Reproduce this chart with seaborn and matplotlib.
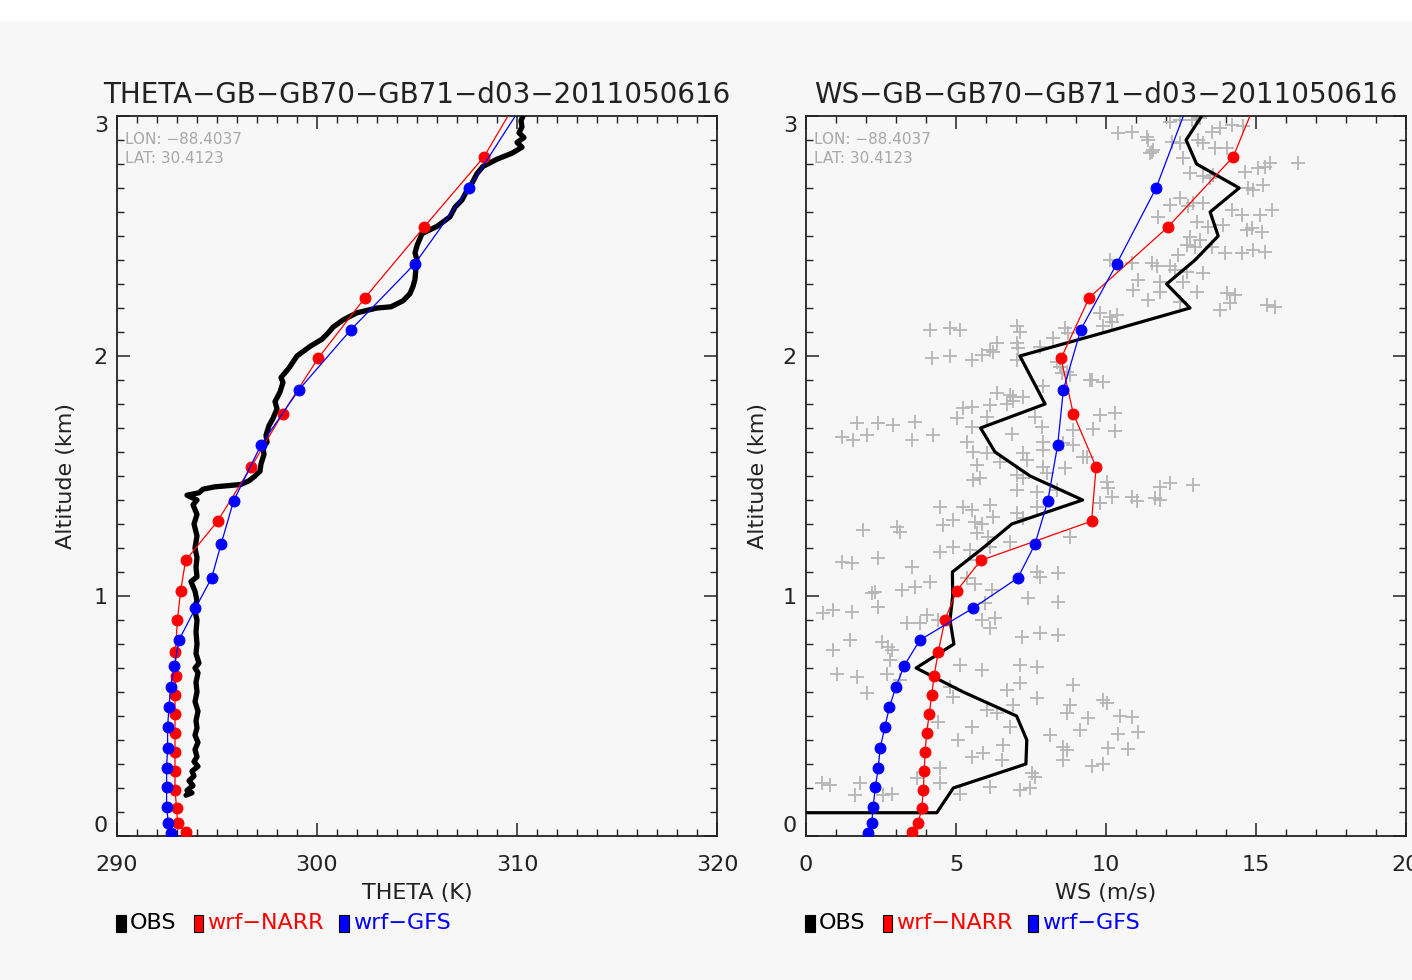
import matplotlib
matplotlib.use("Agg")
import matplotlib.pyplot as plt
from matplotlib.patches import Rectangle
import seaborn as sns

# ---- data ----
# potential temperature profiles (K) vs altitude (km)
obs_theta_alt = [0.17, 0.18, 0.19, 0.21, 0.23, 0.25, 0.27, 0.29, 0.31, 0.33, 0.36, 0.39,
                 0.42, 0.45, 0.48, 0.52, 0.56, 0.60, 0.64, 0.68, 0.70, 0.72, 0.76, 0.80,
                 0.85, 0.90, 0.95, 0.98, 1.02, 1.06, 1.08, 1.12, 1.16, 1.20, 1.25, 1.30,
                 1.34, 1.38, 1.40, 1.42, 1.43, 1.445, 1.455, 1.46, 1.465, 1.48, 1.50, 1.52,
                 1.55, 1.59, 1.62, 1.64, 1.67, 1.71, 1.74, 1.78, 1.81, 1.85, 1.89, 1.91,
                 1.95, 2.00, 2.04, 2.07, 2.10, 2.12, 2.15, 2.18, 2.20, 2.205, 2.23, 2.26,
                 2.29, 2.32, 2.37, 2.40, 2.43, 2.46, 2.51, 2.54, 2.58, 2.62, 2.65, 2.69,
                 2.72, 2.76, 2.79, 2.82, 2.845, 2.87, 2.89, 2.91, 2.93, 2.955, 2.98, 3.00, 3.05]
obs_theta = [293.45, 293.75, 293.5, 293.8, 293.6, 293.85, 293.75, 294.05, 293.85, 294.0, 293.9, 294.05,
             293.9, 294.0, 293.95, 294.05, 293.9, 294.0, 293.95, 294.05, 293.9, 294.1, 293.95, 294.0,
             293.95, 294.0, 293.85, 294.0, 293.9, 293.7, 294.0, 293.95, 294.0, 293.9, 294.0, 293.85,
             294.0, 293.8, 294.0, 293.5, 294.1, 294.3, 294.9, 295.6, 296.2, 296.6, 296.9, 297.15,
             297.2, 297.35, 297.3, 297.5, 297.45, 297.6, 297.8, 298.0, 297.9, 298.15, 298.3, 298.2,
             298.6, 299.0, 299.65, 300.25, 300.6, 300.8, 301.3, 302.0, 303.0, 303.7, 304.3, 304.65,
             304.8, 304.9, 304.95, 305.0, 304.9, 305.0, 305.25, 306.0, 306.65, 306.9, 307.25, 307.5,
             307.75, 308.0, 308.3, 309.0, 309.75, 310.25, 310.0, 310.35, 310.1, 310.25, 310.2, 310.3, 310.3]

narr_alt = [0.015, 0.053, 0.117, 0.192, 0.27, 0.348, 0.429, 0.509, 0.588, 0.668, 0.767,
            0.9, 1.021, 1.148, 1.312, 1.537, 1.76, 1.99, 2.243, 2.537, 2.83, 3.15]
narr_theta = [293.43, 293.03, 292.98, 292.9, 292.9, 292.9, 292.9, 292.9, 292.9, 292.95, 292.92,
              293.02, 293.18, 293.43, 295.03, 296.7, 298.28, 300.05, 302.4, 305.35, 308.35, 310.6]
narr_ws = [3.52, 3.74, 3.86, 3.91, 3.94, 3.97, 4.02, 4.11, 4.19, 4.27, 4.41,
           4.63, 5.02, 5.82, 9.52, 9.67, 8.91, 8.5, 9.44, 12.06, 14.24, 15.29]

gfs_alt = [0.014, 0.053, 0.122, 0.203, 0.285, 0.366, 0.455, 0.537, 0.622, 0.709, 0.817,
           0.949, 1.075, 1.215, 1.396, 1.63, 1.86, 2.11, 2.385, 2.7, 3.05]
gfs_theta = [292.7, 292.57, 292.48, 292.48, 292.48, 292.53, 292.53, 292.6, 292.68, 292.87, 293.1,
             293.92, 294.73, 295.2, 295.83, 297.2, 299.1, 301.7, 304.9, 307.6, 310.3]
gfs_ws = [2.08, 2.19, 2.24, 2.31, 2.41, 2.47, 2.63, 2.78, 3.0, 3.27, 3.8,
          5.56, 7.06, 7.63, 8.06, 8.39, 8.58, 9.16, 10.36, 11.67, 12.73]

# observed wind speed (m/s)
obs_ws_alt = [0.097, 0.097, 0.2, 0.3, 0.4, 0.5, 0.6, 0.7, 0.8, 0.9, 1.0, 1.1, 1.2, 1.3, 1.4,
              1.5, 1.6, 1.7, 1.8, 1.9, 2.0, 2.1, 2.2, 2.3, 2.4, 2.5, 2.6, 2.7, 2.8, 2.9, 3.0, 3.1]
obs_ws = [0.0, 4.36, 4.91, 7.33, 7.36, 7.02, 5.24, 3.67, 4.93, 4.8, 4.89, 4.88, 5.9, 6.86, 9.22,
          7.47, 6.3, 5.82, 7.97, 7.55, 7.13, 10.0, 12.8, 12.02, 12.97, 13.74, 13.47, 14.44, 13.02,
          12.67, 13.19, 13.6]

# individual wind observations (gray crosses)
cross_ws = [6.36, 6.80, 6.69, 5.24, 5.52, 6.13, 6.91, 5.02, 6.02, 7.63, 9.80, 1.69, 2.41, 2.91,
            3.63, 5.52, 7.86, 8.91, 9.58, 1.19, 1.58, 2.02, 3.52, 4.24, 5.36, 6.86, 7.91, 8.58,
            8.91, 5.58, 6.02, 7.24, 7.91, 9.24, 5.69, 6.47, 7.36, 8.63, 7.91, 5.58, 5.80, 7.02,
            7.24, 8.02, 7.02, 7.69, 8.36, 9.80, 4.47, 5.24, 5.52, 6.13, 7.02, 7.69, 4.91, 5.63,
            5.86, 6.24, 7.24, 1.91, 3.02, 3.13, 4.58, 5.69, 6.08, 8.80, 6.80, 4.47, 4.91, 5.47,
            6.13, 1.19, 1.52, 2.41, 3.52, 5.69, 7.69, 7.80, 8.41, 3.19, 3.63, 4.13, 5.36, 5.63,
            6.19, 7.41, 8.41, 2.19, 2.30, 5.97, 0.58, 0.91, 1.52, 2.41, 4.02, 4.41, 5.86, 6.30,
            3.36, 3.80, 6.13, 1.47, 2.52, 2.74, 2.86, 7.19, 7.80, 8.41, 0.91, 2.80, 1.02, 1.69,
            2.69, 5.13, 5.86, 7.13, 7.69, 8.91, 2.02, 3.13, 4.80, 4.91, 6.69, 7.13, 7.69, 8.80,
            9.91, 6.02, 6.36, 6.91, 8.69, 9.41, 4.41, 5.52, 6.80, 8.13, 9.13, 5.08, 6.58, 8.58,
            8.69, 5.52, 5.91, 6.52, 8.58, 9.52, 9.91, 4.47, 7.52, 7.63, 0.52, 0.80, 1.80, 3.69,
            4.47, 6.13, 7.13, 7.47, 1.63, 2.58, 2.86, 5.13,
            10.30, 10.30, 9.36, 10.02, 10.08, 9.80, 10.19, 10.86, 11.02, 11.63, 11.80, 11.80,
            12.13, 12.91, 10.02, 10.47, 10.86, 10.41, 11.08, 10.08, 10.74,
            10.41, 10.86, 11.36, 11.41, 11.47, 11.52, 11.58, 12.13, 12.47, 12.19, 12.47, 12.58,
            13.08, 13.24, 13.52, 13.63, 14.02, 13.80, 14.19, 14.58, 12.80, 13.24, 13.47, 13.58,
            14.63, 15.08, 15.30, 15.47, 16.41, 15.24, 14.74, 14.91, 12.47, 12.13, 12.74, 12.91,
            13.24, 13.02, 13.41, 13.91, 14.19, 14.52, 15.13, 15.52, 14.69, 14.86, 15.19, 11.74,
            12.80, 13.13, 12.69, 12.97, 13.52, 13.97, 14.52, 14.91, 15.30, 12.41, 10.13, 10.86,
            11.52, 11.69, 12.13, 12.30, 12.69, 13.24, 11.08, 10.91, 11.80, 11.80, 12.58, 13.02,
            11.41, 12.47, 14.02, 14.30, 13.80, 14.13, 15.36, 15.63, 9.80, 10.13, 10.36, 10.19,
            9.91, 9.52, 9.91, 13.13, 12.86,
            4.13, 4.80, 5.13, 4.19, 4.80, 5.52, 5.86, 6.13, 6.24, 6.36, 7.02, 7.13, 7.02, 7.08,
            7.02, 7.80, 8.24, 8.63, 8.74, 8.36, 8.47, 8.52, 8.69, 8.80, 9.47, 6.91, 7.24, 7.91]
cross_alt = [1.844, 1.837, 1.802, 1.782, 1.789, 1.795, 1.812, 1.740, 1.747, 1.747, 1.754, 1.722,
             1.722, 1.712, 1.726, 1.705, 1.705, 1.691, 1.694, 1.661, 1.652, 1.670, 1.650, 1.670,
             1.643, 1.677, 1.643, 1.636, 1.629, 1.601, 1.594, 1.594, 1.608, 1.580, 1.545, 1.559,
             1.566, 1.532, 1.539, 1.483, 1.490, 1.504, 1.490, 1.511, 1.441, 1.434, 1.441, 1.386,
             1.372, 1.372, 1.358, 1.379, 1.347, 1.372, 1.316, 1.309, 1.302, 1.330, 1.323, 1.275,
             1.289, 1.268, 1.295, 1.261, 1.247, 1.247, 1.226, 1.184, 1.205, 1.191, 1.205, 1.143,
             1.136, 1.157, 1.122, 1.150, 1.101, 1.080, 1.094, 1.025, 1.039, 1.059, 1.073, 1.052,
             1.025, 0.990, 0.976, 1.011, 1.018, 0.969, 0.930, 0.941, 0.934, 0.955, 0.920, 0.900,
             0.902, 0.907, 0.886, 0.886, 0.865, 0.816, 0.809, 0.789, 0.775, 0.830, 0.844, 0.837,
             0.777, 0.733, 0.677, 0.664, 0.677, 0.712, 0.691, 0.712, 0.705, 0.629, 0.594, 0.650,
             0.622, 0.580, 0.608, 0.636, 0.573, 0.545, 0.566, 0.525, 0.511, 0.545, 0.511, 0.490,
             0.476, 0.455, 0.455, 0.420, 0.441, 0.400, 0.379, 0.372, 0.358, 0.330, 0.344, 0.316,
             0.316, 0.291, 0.302, 0.282, 0.261, 0.247, 0.219, 0.212, 0.219, 0.240, 0.219, 0.205,
             0.191, 0.198, 0.170, 0.170, 0.177, 0.177,
             1.764, 1.687, 1.580, 1.476, 1.448, 1.389, 1.414, 1.414, 1.396, 1.407, 1.400, 1.455,
             1.469, 1.462, 0.555, 0.500, 0.497, 0.427, 0.434, 0.365, 0.361,
             2.928, 2.935, 2.914, 2.900, 2.845, 2.852, 2.859, 2.977, 2.984, 2.893, 2.886, 2.824,
             2.900, 2.886, 2.935, 2.866, 2.866, 2.949, 2.963, 2.959, 2.761, 2.748, 2.741, 2.754,
             2.768, 2.782, 2.789, 2.803, 2.803, 2.713, 2.699, 2.692, 2.657, 2.630, 2.623, 2.637,
             2.637, 2.560, 2.539, 2.546, 2.609, 2.588, 2.588, 2.609, 2.525, 2.532, 2.518, 2.581,
             2.497, 2.484, 2.463, 2.456, 2.456, 2.428, 2.428, 2.442, 2.435, 2.421, 2.400, 2.386,
             2.386, 2.373, 2.373, 2.359, 2.352, 2.345, 2.317, 2.275, 2.310, 2.268, 2.310, 2.268,
             2.234, 2.227, 2.261, 2.254, 2.192, 2.220, 2.213, 2.206, 2.178, 2.164, 2.171, 2.143,
             2.123, 1.900, 1.893, 2.990, 2.983,
             2.109, 2.116, 2.109, 1.991, 1.998, 1.984, 2.004, 2.025, 2.018, 2.053, 2.123, 2.102,
             2.053, 2.032, 1.984, 2.039, 2.074, 2.116, 2.095, 1.977, 1.956, 1.928, 1.935, 1.921,
             1.900, 1.831, 1.831, 1.873]

titles = ["THETA−GB−GB70−GB71−d03−2011050616", "WS−GB−GB70−GB71−d03−2011050616"]
xlabels = ["THETA (K)", "WS (m/s)"]
legend_names = ["OBS", "wrf−NARR", "wrf−GFS"]
legend_colors = ["black", "red", "blue"]
site_text = ["LON: −88.4037", "LAT: 30.4123"]

# ---- style ----
sns.set_style("ticks")
bg = "#f7f7f7"
plt.rcParams["font.family"] = ["DejaVu Sans"]
plt.rcParams["axes.edgecolor"] = "#222222"
plt.rcParams["axes.linewidth"] = 1.3

fig = plt.figure(figsize=(14.12, 9.8), dpi=100, facecolor=bg)
fig.patches.append(Rectangle((0, 1 - 20 / 980), 1, 20 / 980, transform=fig.transFigure,
                             color="white", zorder=0))

W, H = 1412, 980
ax1 = fig.add_axes([117 / W, (H - 836) / H, 600 / W, 720 / H])
ax2 = fig.add_axes([806 / W, (H - 836) / H, 600 / W, 720 / H])

model_kw = dict(sort=False, estimator=None, linewidth=0.9, marker="o", markersize=7.8)

# left panel: theta
sns.lineplot(x=obs_theta, y=obs_theta_alt, sort=False, estimator=None, color="black",
             linewidth=3.8, ax=ax1, zorder=3)
sns.lineplot(x=narr_theta, y=narr_alt, color="red", markeredgecolor="red", ax=ax1,
             zorder=4, **model_kw)
sns.lineplot(x=gfs_theta, y=gfs_alt, color="blue", markeredgecolor="blue", ax=ax1,
             zorder=5, **model_kw)

# right panel: wind speed
sns.scatterplot(x=cross_ws, y=cross_alt, marker="+", s=95, color="#b5b5b5",
                linewidth=1.3, ax=ax2, zorder=1)
sns.lineplot(x=obs_ws, y=obs_ws_alt, sort=False, estimator=None, color="black",
             linewidth=2.3, ax=ax2, zorder=3)
sns.lineplot(x=narr_ws, y=narr_alt, color="red", markeredgecolor="red", ax=ax2,
             zorder=4, **model_kw)
sns.lineplot(x=gfs_ws, y=gfs_alt, color="blue", markeredgecolor="blue", ax=ax2,
             zorder=5, **model_kw)

ax1.set_xlim(290, 320)
ax1.set_xticks([290, 300, 310, 320])
ax1.set_xticks(range(290, 321), minor=True)
ax2.set_xlim(0, 20)
ax2.set_xticks([0, 5, 10, 15, 20])
ax2.set_xticks(range(0, 21), minor=True)

ylab_x = [-0.068, -0.063]
for i, ax in enumerate([ax1, ax2]):
    ax.set_facecolor(bg)
    ax.set_ylim(0, 3)
    ax.set_yticks([0, 1, 2, 3])
    ax.set_yticks([k / 10 for k in range(31)], minor=True)
    for sp in ax.spines.values():
        sp.set_visible(True)
    ax.tick_params(which="both", direction="in", top=True, right=True,
                   colors="#222222", labelcolor="#222222")
    ax.tick_params(which="major", length=9.5, width=1.1, labelsize=16)
    ax.tick_params(which="minor", length=5, width=1.0)
    ax.tick_params(axis="x", which="major", pad=14)
    ax.tick_params(axis="y", which="major", pad=6.5)
    labs = ax.get_yticklabels()
    labs[0].set_va("bottom")
    labs[-1].set_va("top")

    ax.set_title(titles[i], fontsize=20, pad=9.5, color="#222222")
    ax.set_xlabel(xlabels[i], fontsize=16, color="#222222")
    ax.xaxis.set_label_coords(0.5, -0.065)
    ax.set_ylabel("Altitude (km)", fontsize=16, color="#222222")
    ax.yaxis.set_label_coords(ylab_x[i], 0.5)

    ax.text(0.013, 0.9676, site_text[0], transform=ax.transAxes, fontsize=11,
            color="#a8a8a8", va="center", ha="left")
    ax.text(0.013, 0.941, site_text[1], transform=ax.transAxes, fontsize=11,
            color="#a8a8a8", va="center", ha="left")

    # legend row under each panel
    box_x = [-0.0017, 0.1275, 0.37]
    text_x = [0.021, 0.15, 0.3927]
    for bx, tx, name, col in zip(box_x, text_x, legend_names, legend_colors):
        ax.add_patch(Rectangle((bx, -0.1333), 0.016, 0.0236, transform=ax.transAxes,
                               facecolor=col, edgecolor="black", linewidth=0.8,
                               clip_on=False))
        ax.text(tx, -0.1208, name, transform=ax.transAxes, fontsize=16, color=col,
                va="center", ha="left")

fig.savefig("out.png", dpi=100, facecolor=fig.get_facecolor())
